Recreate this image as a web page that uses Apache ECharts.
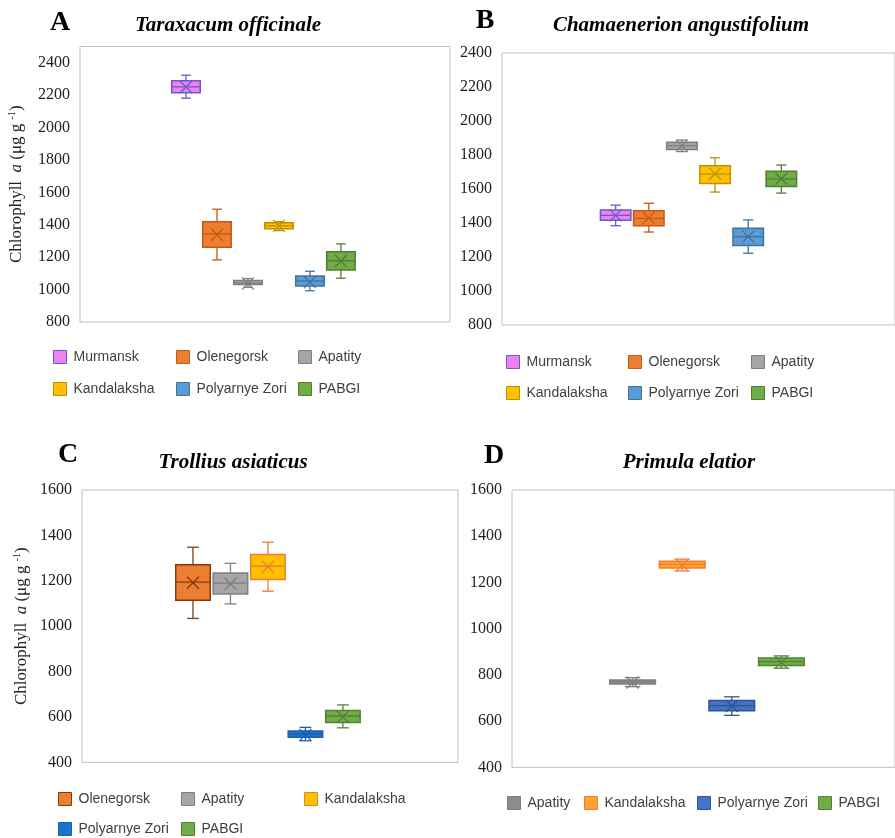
<!DOCTYPE html>
<html>
<head>
<meta charset="utf-8">
<script src="https://cdn.jsdelivr.net/npm/echarts@6/dist/echarts.min.js"></script>
<style>
  html, body { margin: 0; padding: 0; background: #fff; }
  #chart { width: 895px; height: 838px; }
</style>
</head>
<body>
<div id="chart"></div>
<script>
  // each box: [whisker low, Q1, median, Q3, whisker high]
  var taraxacumSites = ['Murmansk', 'Olenegorsk', 'Apatity', 'Kandalaksha', 'Polyarnye Zori', 'PABGI'];
  var taraxacumBoxes = [
    [2181, 2215, 2251, 2288, 2323],
    [1183, 1261, 1343, 1419, 1496],
    [1014, 1031, 1040, 1056, 1068],
    [1364, 1376, 1394, 1413, 1419],
    [993, 1022, 1053, 1084, 1113],
    [1070, 1121, 1178, 1234, 1282]
  ];
  var taraxacumMeans = [2250, 1338, 1037, 1393, 1046, 1176];

  var chamaenerionSites = ['Murmansk', 'Olenegorsk', 'Apatity', 'Kandalaksha', 'Polyarnye Zori', 'PABGI'];
  var chamaenerionBoxes = [
    [1384, 1416, 1445, 1476, 1505],
    [1347, 1384, 1427, 1472, 1516],
    [1820, 1833, 1855, 1875, 1888],
    [1582, 1633, 1688, 1737, 1784],
    [1222, 1267, 1320, 1369, 1418],
    [1576, 1614, 1659, 1704, 1741]
  ];
  var chamaenerionMeans = [1445, 1430, 1855, 1690, 1320, 1660];

  var trolliusSites = ['Olenegorsk', 'Apatity', 'Kandalaksha', 'Polyarnye Zori', 'PABGI'];
  var trolliusBoxes = [
    [1034, 1114, 1194, 1271, 1348],
    [1098, 1142, 1190, 1234, 1277],
    [1154, 1206, 1264, 1316, 1370],
    [495, 510, 524, 538, 554],
    [552, 575, 604, 628, 653]
  ];
  var trolliusMeans = [1191, 1187, 1262, 521, 601];

  var primulaSites = ['Apatity', 'Kandalaksha', 'Polyarnye Zori', 'PABGI'];
  var primulaBoxes = [
    [749, 761, 770, 778, 788],
    [1250, 1263, 1278, 1292, 1301],
    [625, 645, 667, 689, 705],
    [829, 841, 857, 873, 882]
  ];
  var primulaMeans = [767, 1275, 665, 854];

  // [fill, outline]
  var colorsTop = {
    'Murmansk': ['#EE82EE', '#6A5ACD'],
    'Olenegorsk': ['#ED7D31', '#C55A11'],
    'Apatity': ['#A5A5A5', '#7F7F7F'],
    'Kandalaksha': ['#FFC000', '#BF9000'],
    'Polyarnye Zori': ['#5B9BD5', '#41719C'],
    'PABGI': ['#70AD47', '#507E32']
  };
  var colorsC = {
    'Olenegorsk': ['#ED7D31', '#843C0C'],
    'Apatity': ['#A5A5A5', '#7F7F7F'],
    'Kandalaksha': ['#FFC000', '#ED7D31'],
    'Polyarnye Zori': ['#1874CD', '#1F5FA8'],
    'PABGI': ['#70AD47', '#548235']
  };
  var colorsD = {
    'Apatity': ['#8C8C8C', '#7F7F7F'],
    'Kandalaksha': ['#FFA22E', '#ED7D31'],
    'Polyarnye Zori': ['#4472C4', '#2F5597'],
    'PABGI': ['#70AD47', '#548235']
  };

  var panels = [
    { letter: 'A', title: 'Taraxacum officinale', sites: taraxacumSites, boxes: taraxacumBoxes, means: taraxacumMeans, colors: colorsTop,
      grid: { left: 80, top: 46.5, width: 370, height: 275.5 }, yRange: [800, 2500], xRange: [-3.42, 8.52], yName: true, nameGap: 53,
      letterAt: [60, 23], titleAt: [228, 26], legendCols: [53, 176, 298], legendRows: [357, 389] },
    { letter: 'B', title: 'Chamaenerion angustifolium', sites: chamaenerionSites, boxes: chamaenerionBoxes, means: chamaenerionMeans, colors: colorsTop,
      grid: { left: 502, top: 53, width: 394, height: 272 }, yRange: [800, 2400], xRange: [-3.43, 8.43], yName: false,
      letterAt: [485, 21], titleAt: [681, 26], legendCols: [506, 628, 751], legendRows: [362, 393] },
    { letter: 'C', title: 'Trollius asiaticus', sites: trolliusSites, boxes: trolliusBoxes, means: trolliusMeans, colors: colorsC,
      grid: { left: 82, top: 490, width: 376, height: 272.3 }, yRange: [400, 1600], xRange: [-2.96, 7.07], yName: true, nameGap: 50,
      letterAt: [68, 455], titleAt: [233, 463], legendCols: [58, 181, 304], legendRows: [799, 829] },
    { letter: 'D', title: 'Primula elatior', sites: primulaSites, boxes: primulaBoxes, means: primulaMeans, colors: colorsD,
      grid: { left: 512, top: 490, width: 384, height: 277.3 }, yRange: [400, 1600], xRange: [-2.43, 5.29], yName: false,
      letterAt: [494, 456], titleAt: [689, 463], legendCols: [507, 584, 697, 818], legendRows: [803] }
  ];

  function boxRenderer(fill, stroke) {
    return function (params, api) {
      var i = api.value(0);
      var lo = api.coord([i, api.value(1)]);
      var q1 = api.coord([i, api.value(2)]);
      var md = api.coord([i, api.value(3)]);
      var q3 = api.coord([i, api.value(4)]);
      var hi = api.coord([i, api.value(5)]);
      var mn = api.coord([i, api.value(6)]);
      var w = api.size([1, 0])[0] * 0.92;
      var cx = lo[0];
      var cap = w * 0.34;
      var m = 6;
      var line = { stroke: stroke, lineWidth: 1.3 };
      return {
        type: 'group',
        children: [
          { type: 'line', shape: { x1: cx, y1: hi[1], x2: cx, y2: q3[1] }, style: line },
          { type: 'line', shape: { x1: cx, y1: q1[1], x2: cx, y2: lo[1] }, style: line },
          { type: 'line', shape: { x1: cx - cap / 2, y1: hi[1], x2: cx + cap / 2, y2: hi[1] }, style: line },
          { type: 'line', shape: { x1: cx - cap / 2, y1: lo[1], x2: cx + cap / 2, y2: lo[1] }, style: line },
          { type: 'rect', shape: { x: cx - w / 2, y: q3[1], width: w, height: q1[1] - q3[1] },
            style: { fill: fill, stroke: stroke, lineWidth: 1.5 } },
          { type: 'line', shape: { x1: cx - w / 2, y1: md[1], x2: cx + w / 2, y2: md[1] }, style: line },
          { type: 'line', shape: { x1: cx - m, y1: mn[1] - m, x2: cx + m, y2: mn[1] + m }, style: line },
          { type: 'line', shape: { x1: cx - m, y1: mn[1] + m, x2: cx + m, y2: mn[1] - m }, style: line }
        ]
      };
    };
  }

  var grids = [], xAxes = [], yAxes = [], series = [], legends = [], graphics = [];

  panels.forEach(function (p, k) {
    grids.push({
      left: p.grid.left, top: p.grid.top, width: p.grid.width, height: p.grid.height,
      show: true, borderColor: '#BFBFBF', borderWidth: 1
    });
    xAxes.push({ gridIndex: k, type: 'value', min: p.xRange[0], max: p.xRange[1], show: false });
    var y = {
      gridIndex: k, type: 'value', min: p.yRange[0], max: p.yRange[1], interval: 200,
      axisLine: { show: false }, axisTick: { show: false }, splitLine: { show: false },
      axisLabel: {
        margin: 10, fontFamily: 'Liberation Serif', fontSize: 16, color: '#222',
        formatter: function (v) { return v % 200 === 0 ? String(v) : ''; }
      }
    };
    if (p.yName) {
      y.name = 'Chlorophyll  {i|a} (μg g {s|-1})';
      y.nameLocation = 'middle';
      y.nameGap = p.nameGap;
      y.nameTextStyle = {
        fontFamily: 'Liberation Serif', fontSize: 17, color: '#222', lineHeight: 20,
        rich: {
          i: { fontFamily: 'Liberation Serif', fontStyle: 'italic', fontSize: 17, color: '#222' },
          s: { fontFamily: 'Liberation Serif', fontSize: 10, color: '#222', verticalAlign: 'top', lineHeight: 20 }
        }
      };
    }
    yAxes.push(y);

    p.sites.forEach(function (site, i) {
      var b = p.boxes[i];
      var c = p.colors[site];
      series.push({
        name: site,
        type: 'custom',
        xAxisIndex: k,
        yAxisIndex: k,
        renderItem: boxRenderer(c[0], c[1]),
        encode: { x: 0, y: [1, 2, 3, 4, 5, 6] },
        data: [[i, b[0], b[1], b[2], b[3], b[4], p.means[i]]],
        silent: true
      });
      var perRow = p.legendCols.length;
      legends.push({
        left: p.legendCols[i % perRow],
        top: p.legendRows[Math.floor(i / perRow)] - 7,
        padding: 0,
        icon: 'rect',
        itemWidth: 13,
        itemHeight: 13,
        selectedMode: false,
        textStyle: { fontFamily: 'Liberation Sans', fontSize: 14, color: '#404040', padding: [0, 0, 0, 2] },
        data: [{ name: site, itemStyle: { color: c[0], borderColor: c[1], borderWidth: 1 } }]
      });
    });

    graphics.push({
      type: 'text', x: p.letterAt[0], y: p.letterAt[1],
      style: { text: p.letter, font: 'bold 28px "Liberation Serif"', fill: '#000', textAlign: 'center', textVerticalAlign: 'middle' }
    });
    graphics.push({
      type: 'text', x: p.titleAt[0], y: p.titleAt[1],
      style: { text: p.title, font: 'italic bold 21px "Liberation Serif"', fill: '#000', textAlign: 'center', textVerticalAlign: 'middle' }
    });
  });

  var chart = echarts.init(document.getElementById('chart'));
  chart.setOption({
    animation: false,
    backgroundColor: '#fff',
    grid: grids,
    xAxis: xAxes,
    yAxis: yAxes,
    legend: legends,
    graphic: graphics,
    series: series
  });
</script>
</body>
</html>
